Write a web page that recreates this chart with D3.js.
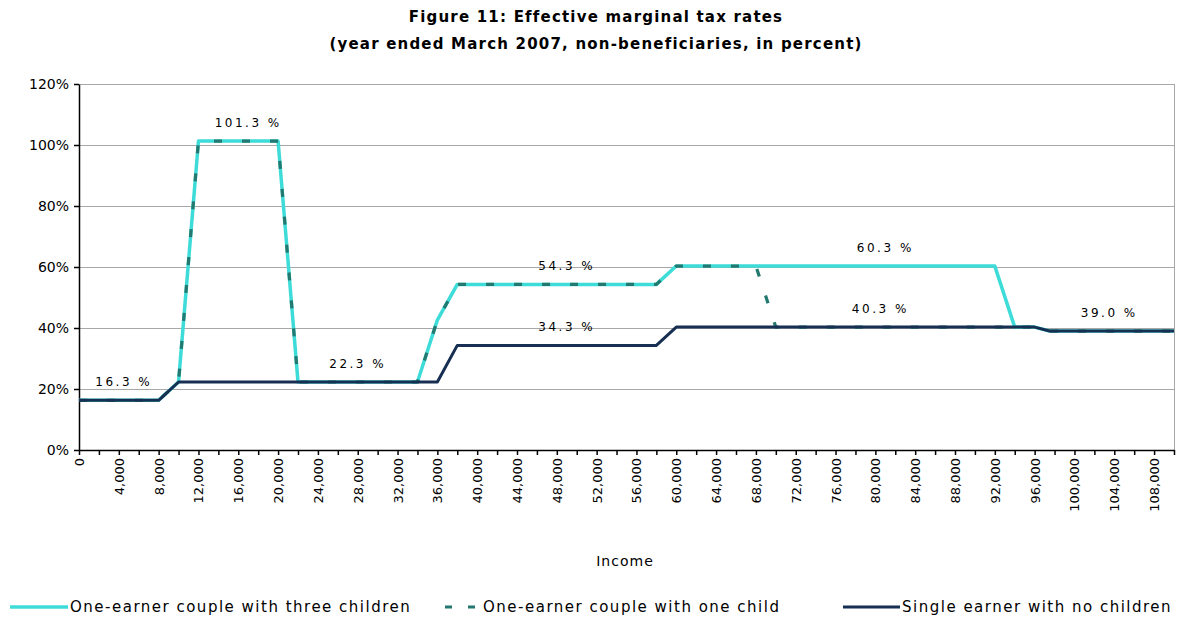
<!DOCTYPE html>
<html><head><meta charset="utf-8">
<script src="https://cdn.jsdelivr.net/npm/d3@7"></script>
<style>
body{margin:0;background:#fff;}
svg{display:block;}
text{font-family:"DejaVu Sans",Verdana,sans-serif;fill:#000;}
</style></head>
<body>
<svg id="chart" width="1186" height="621"></svg>
<script>
// ---- data ----
const threeIncome = [0, 8000, 10000, 12000, 20000, 22000, 34000, 36000, 38000, 58000, 60000, 92000, 94000, 96000, 97500, 110000];
const threeValue  = [16.3, 16.3, 22.3, 101.3, 101.3, 22.3, 22.3, 42.6, 54.3, 54.3, 60.3, 60.3, 40.3, 40.3, 39.0, 39.0];
const oneIncome   = [0, 8000, 10000, 12000, 20000, 22000, 34000, 36000, 38000, 58000, 60000, 68000, 70000, 96000, 97500, 110000];
const oneValue    = [16.3, 16.3, 22.3, 101.3, 101.3, 22.3, 22.3, 42.6, 54.3, 54.3, 60.3, 60.3, 40.3, 40.3, 39.0, 39.0];
const singleIncome= [0, 8000, 10000, 36000, 38000, 58000, 60000, 96000, 97500, 110000];
const singleValue = [16.3, 16.3, 22.3, 22.3, 34.3, 34.3, 40.3, 40.3, 39.0, 39.0];

const labelIncome = [4500, 17000, 28000, 49000, 49000, 81000, 80500, 103500];
const labelValue  = [16.3, 101.3, 22.3, 54.3, 34.3, 60.3, 40.3, 39.0];
const labelText   = ["16.3 %", "101.3 %", "22.3 %", "54.3 %", "34.3 %", "60.3 %", "40.3 %", "39.0 %"];

const yTicks = [0, 20, 40, 60, 80, 100, 120];
const xMinorTicks = d3.range(0, 110001, 2000);
const xLabelTicks = d3.range(0, 108001, 4000);

const seriesNames = ["One-earner couple with three children", "One-earner couple with one child", "Single earner with no children"];
const colors = ["#3EDCD8", "#23796F", "#172F52"];

// ---- layout ----
const svg = d3.select("#chart");
const L = 79, R = 1174, T = 84, B = 450;
const x = d3.scaleLinear().domain([0, 110000]).range([L, R]);
const y = d3.scaleLinear().domain([0, 120]).range([B, T]);

// title
svg.append("text").attr("x", 596).attr("y", 22).attr("text-anchor", "middle")
  .style("font-weight", "bold").style("font-size", "15px").style("letter-spacing", "1.2px")
  .text("Figure 11: Effective marginal tax rates");
svg.append("text").attr("x", 596).attr("y", 49).attr("text-anchor", "middle")
  .style("font-weight", "bold").style("font-size", "15px").style("letter-spacing", "1.2px")
  .text("(year ended March 2007, non-beneficiaries, in percent)");

// gridlines
svg.append("g").selectAll("line").data(yTicks.filter(d => d > 0)).join("line")
  .attr("x1", L).attr("x2", R).attr("y1", d => y(d)).attr("y2", d => y(d))
  .attr("stroke", "#A8A8A8").attr("stroke-width", 1).attr("shape-rendering", "crispEdges");
// right border
svg.append("line").attr("x1", R).attr("x2", R).attr("y1", T).attr("y2", B)
  .attr("stroke", "#A8A8A8").attr("shape-rendering", "crispEdges");

// y axis
const yAxis = d3.axisLeft(y).tickValues(yTicks).tickFormat(d => d + "%").tickSize(5).tickSizeOuter(0);
const gy = svg.append("g").attr("transform", `translate(${L},0)`).call(yAxis);
gy.select(".domain").attr("stroke", "#000").attr("stroke-width", 1.5);
gy.selectAll(".tick line").attr("stroke", "#000").attr("stroke-width", 1.5);
gy.selectAll(".tick text").attr("x", -10).style("font-size", "14px").style("font-family", "DejaVu Sans, Verdana, sans-serif");

// x axis
const xAxis = d3.axisBottom(x).tickValues(xMinorTicks).tickFormat("").tickSize(5).tickSizeOuter(0);
const gx = svg.append("g").attr("transform", `translate(0,${B})`).call(xAxis);
gx.select(".domain").attr("stroke", "#000").attr("stroke-width", 1.5);
gx.selectAll(".tick line").attr("stroke", "#000").attr("stroke-width", 1.5);
svg.append("g").selectAll("text").data(xLabelTicks).join("text")
  .attr("transform", d => `translate(${x(d) + 5},${B + 8}) rotate(-90)`)
  .attr("text-anchor", "end").style("font-size", "13px")
  .text(d => d3.format(",")(d));

svg.append("text").attr("x", 625).attr("y", 566).attr("text-anchor", "middle")
  .style("font-size", "14px").style("letter-spacing", "1px").text("Income");

// lines
const line = d3.line().x(d => x(d[0])).y(d => y(d[1]));
const zip = (a, b) => a.map((v, i) => [v, b[i]]);
svg.append("path").datum(zip(threeIncome, threeValue)).attr("d", line)
  .attr("fill", "none").attr("stroke", colors[0]).attr("stroke-width", 3.5).attr("stroke-linejoin", "round");
svg.append("path").datum(zip(oneIncome, oneValue)).attr("d", line)
  .attr("fill", "none").attr("stroke", colors[1]).attr("stroke-width", 3.2).attr("stroke-dasharray", "8,20");
svg.append("path").datum(zip(singleIncome, singleValue)).attr("d", line)
  .attr("fill", "none").attr("stroke", colors[2]).attr("stroke-width", 3).attr("stroke-linejoin", "round");

// data labels
svg.append("g").selectAll("text").data(labelText).join("text")
  .attr("x", (d, i) => x(labelIncome[i])).attr("y", (d, i) => y(labelValue[i]) - 14)
  .attr("text-anchor", "middle").style("font-size", "12px").style("letter-spacing", "2.5px")
  .text(d => d);

// legend
const ly = 607;
const lg = svg.append("g");
const lstyle = s => s.style("font-size", "15px").style("letter-spacing", "1.5px");
lg.append("line").attr("x1", 10).attr("x2", 68).attr("y1", ly).attr("y2", ly)
  .attr("stroke", colors[0]).attr("stroke-width", 3.5);
lg.append("text").attr("x", 70).attr("y", ly + 5).call(lstyle).text(seriesNames[0]);
lg.append("line").attr("x1", 445).attr("x2", 475).attr("y1", ly).attr("y2", ly)
  .attr("stroke", colors[1]).attr("stroke-width", 3).attr("stroke-dasharray", "7,16");
lg.append("text").attr("x", 483).attr("y", ly + 5).call(lstyle).text(seriesNames[1]);
lg.append("line").attr("x1", 843).attr("x2", 900).attr("y1", ly).attr("y2", ly)
  .attr("stroke", colors[2]).attr("stroke-width", 3);
lg.append("text").attr("x", 902).attr("y", ly + 5).call(lstyle).text(seriesNames[2]);
</script>
</body></html>
